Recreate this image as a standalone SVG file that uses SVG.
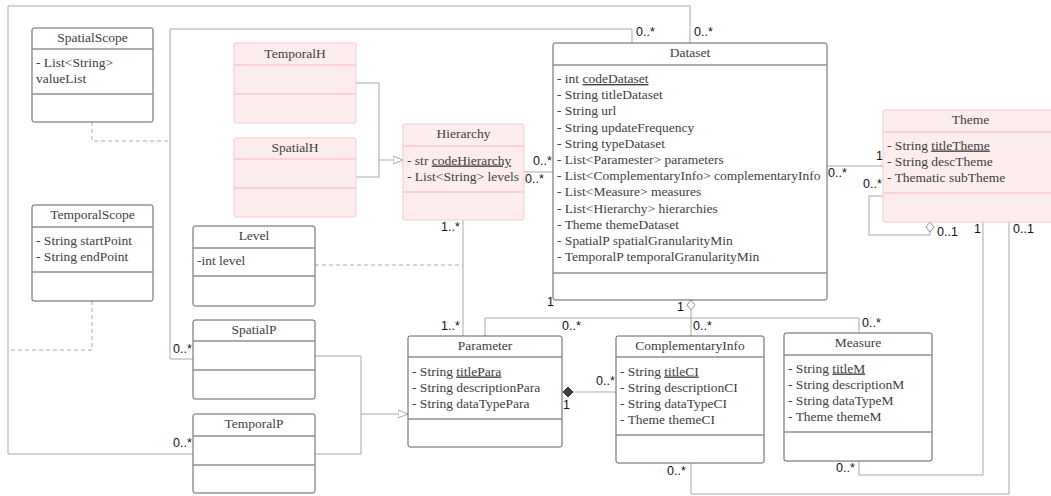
<svg xmlns="http://www.w3.org/2000/svg" width="1051" height="496" viewBox="0 0 1051 496">
<style>
.box{fill:#ffffff;stroke:#5f5f5f;stroke-width:1}
.pink{fill:#fdeded;stroke:#f8c6d3;stroke-width:1}
.sep{stroke:#8e8e8e;stroke-width:1.5}
.psep{stroke:#f8c6d3;stroke-width:1.5}
.t{font-family:"Liberation Serif","Times New Roman",serif;font-size:13.5px;fill:#404040}
.c{text-anchor:middle}
.u{text-decoration:underline}
.lbl{font-family:"Liberation Sans",Arial,sans-serif;font-size:12.5px;fill:#111}
.ln{fill:none;stroke:#a9a9a9;stroke-width:1}
.dash{stroke-dasharray:4 3}
</style>
<defs>
<marker id="tri" viewBox="0 -5 11 10" refX="10" refY="0" markerWidth="11" markerHeight="10" markerUnits="userSpaceOnUse" orient="auto">
<path d="M0,-4 L10,0 L0,4 Z" fill="#fff" stroke="#a9a9a9" stroke-width="1"/>
</marker>
<marker id="odia" viewBox="-1 -5 12 10" refX="10" refY="0" markerWidth="12" markerHeight="10" markerUnits="userSpaceOnUse" orient="auto">
<path d="M0,0 L5,-4 L10,0 L5,4 Z" fill="#fff" stroke="#8e8e8e" stroke-width="1"/>
</marker>
<marker id="fdia" viewBox="-1 -6 12 12" refX="10" refY="0" markerWidth="12" markerHeight="12" markerUnits="userSpaceOnUse" orient="auto">
<path d="M0,0 L5,-5 L10,0 L5,5 Z" fill="#3a3f47" stroke="#3a3f47" stroke-width="1"/>
</marker>
</defs>

<g id="connectors">
<path class="ln" d="M690,43 V6 H8 V454 H193"/>
<path class="ln" d="M632,43 V29 H170 V359 H193"/>
<path class="ln dash" d="M92,122 V141 H170"/>
<path class="ln dash" d="M92,301 V350 H8"/>
<path class="ln" d="M356,83 H379 V177 H356"/>
<path class="ln" d="M379,160 H403" marker-end="url(#tri)"/>
<path class="ln" d="M524,172 H553"/>
<path class="ln dash" d="M315,265 H463"/>
<path class="ln" d="M463,220 V336"/>
<path class="ln" d="M827,166 H883"/>
<path class="ln" d="M883,196 H869 V235 H930 V222" marker-end="url(#odia)"/>
<path class="ln" d="M485,336 V318 H859 V333"/>
<path class="ln" d="M691,336 V300" marker-end="url(#odia)"/>
<path class="ln" d="M616,392 H563" marker-end="url(#fdia)"/>
<path class="ln" d="M315,356 H361 V454 H315"/>
<path class="ln" d="M361,414 H408" marker-end="url(#tri)"/>
<path class="ln" d="M983,222 V475 H859 V461"/>
<path class="ln" d="M1009,222 V494 H691 V463"/>
<text class="lbl" x="636" y="36">0..*</text>
<text class="lbl" x="694" y="36">0..*</text>
<text class="lbl" x="533" y="165">0..*</text>
<text class="lbl" x="525" y="183">0..*</text>
<text class="lbl" x="441" y="231">1..*</text>
<text class="lbl" x="441" y="330">1..*</text>
<text class="lbl" x="562" y="330">0..*</text>
<text class="lbl" x="693" y="330">0..*</text>
<text class="lbl" x="862" y="327">0..*</text>
<text class="lbl" x="547" y="306">1</text>
<text class="lbl" x="677" y="311">1</text>
<text class="lbl" x="876" y="160">1</text>
<text class="lbl" x="828" y="177">0..*</text>
<text class="lbl" x="863" y="188">0..*</text>
<text class="lbl" x="937" y="236">0..1</text>
<text class="lbl" x="974" y="233">1</text>
<text class="lbl" x="1013" y="233">0..1</text>
<text class="lbl" x="596" y="385">0..*</text>
<text class="lbl" x="563" y="409">1</text>
<text class="lbl" x="667" y="475">0..*</text>
<text class="lbl" x="836" y="472">0..*</text>
<text class="lbl" x="173" y="353">0..*</text>
<text class="lbl" x="173" y="447">0..*</text>
</g>

<g id="SpatialScope">
<rect class="box" x="32" y="28" width="121" height="94" rx="2"/>
<line class="sep" x1="32" y1="49" x2="153" y2="49"/>
<line class="sep" x1="32" y1="94" x2="153" y2="94"/>
<text class="t c" x="92.5" y="41.5">SpatialScope</text>
<text class="t" x="36" y="66.5">- List&lt;String&gt;</text>
<text class="t" x="36" y="82.5">valueList</text>
</g>

<g id="TemporalScope">
<rect class="box" x="32" y="205" width="121" height="96" rx="2"/>
<line class="sep" x1="32" y1="227" x2="153" y2="227"/>
<line class="sep" x1="32" y1="272" x2="153" y2="272"/>
<text class="t c" x="92.5" y="218.5">TemporalScope</text>
<text class="t" x="36" y="244.5">- String startPoint</text>
<text class="t" x="36" y="260.5">- String endPoint</text>
</g>

<g id="TemporalH">
<rect class="pink" x="234" y="43" width="122" height="80" rx="2"/>
<line class="psep" x1="234" y1="65" x2="356" y2="65"/>
<line class="psep" x1="234" y1="94" x2="356" y2="94"/>
<text class="t c" x="295" y="57.5">TemporalH</text>
</g>

<g id="SpatialH">
<rect class="pink" x="234" y="138" width="122" height="79" rx="2"/>
<line class="psep" x1="234" y1="159" x2="356" y2="159"/>
<line class="psep" x1="234" y1="188" x2="356" y2="188"/>
<text class="t c" x="295" y="152">SpatialH</text>
</g>

<g id="Hierarchy">
<rect class="pink" x="403" y="124" width="121" height="96" rx="2"/>
<line class="psep" x1="403" y1="146" x2="524" y2="146"/>
<line class="psep" x1="403" y1="192" x2="524" y2="192"/>
<text class="t c" x="463.5" y="137.5">Hierarchy</text>
<text class="t" x="407" y="164.5">- str <tspan class="u">codeHierarchy</tspan></text>
<text class="t" x="407" y="180.5">- List&lt;String&gt; levels</text>
</g>

<g id="Level">
<rect class="box" x="193" y="226" width="122" height="80" rx="2"/>
<line class="sep" x1="193" y1="248" x2="315" y2="248"/>
<line class="sep" x1="193" y1="276" x2="315" y2="276"/>
<text class="t c" x="254" y="239.5">Level</text>
<text class="t" x="197" y="264.5">-int level</text>
</g>

<g id="SpatialP">
<rect class="box" x="193" y="320" width="122" height="79" rx="2"/>
<line class="sep" x1="193" y1="341" x2="315" y2="341"/>
<line class="sep" x1="193" y1="370" x2="315" y2="370"/>
<text class="t c" x="254" y="333.5">SpatialP</text>
</g>

<g id="TemporalP">
<rect class="box" x="193" y="414" width="122" height="79" rx="2"/>
<line class="sep" x1="193" y1="436" x2="315" y2="436"/>
<line class="sep" x1="193" y1="465" x2="315" y2="465"/>
<text class="t c" x="254" y="427.5">TemporalP</text>
</g>

<g id="Dataset">
<rect class="box" x="553" y="43" width="274" height="257" rx="2"/>
<line class="sep" x1="553" y1="65" x2="827" y2="65"/>
<line class="sep" x1="553" y1="273" x2="827" y2="273"/>
<text class="t c" x="690" y="57">Dataset</text>
<text class="t" x="557" y="83">- int <tspan class="u">codeDataset</tspan></text>
<text class="t" x="557" y="99.2">- String titleDataset</text>
<text class="t" x="557" y="115.4">- String url</text>
<text class="t" x="557" y="131.6">- String updateFrequency</text>
<text class="t" x="557" y="147.8">- String typeDataset</text>
<text class="t" x="557" y="164">- List&lt;Paramester&gt; parameters</text>
<text class="t" x="557" y="180.2">- List&lt;ComplementaryInfo&gt; complementaryInfo</text>
<text class="t" x="557" y="196.4">- List&lt;Measure&gt; measures</text>
<text class="t" x="557" y="212.6">- List&lt;Hierarchy&gt; hierarchies</text>
<text class="t" x="557" y="228.8">- Theme themeDataset</text>
<text class="t" x="557" y="245">- SpatialP spatialGranularityMin</text>
<text class="t" x="557" y="261.2">- TemporalP temporalGranularityMin</text>
</g>

<g id="Theme">
<rect class="pink" x="883" y="110" width="175" height="112" rx="2"/>
<line class="psep" x1="883" y1="132" x2="1058" y2="132"/>
<line class="psep" x1="883" y1="193" x2="1058" y2="193"/>
<text class="t c" x="970.5" y="124">Theme</text>
<text class="t" x="887" y="149.5">- String <tspan class="u">titleTheme</tspan></text>
<text class="t" x="887" y="165.5">- String descTheme</text>
<text class="t" x="887" y="181.5">- Thematic subTheme</text>
</g>

<g id="Parameter">
<rect class="box" x="408" y="336" width="154" height="111" rx="2"/>
<line class="sep" x1="408" y1="357" x2="562" y2="357"/>
<line class="sep" x1="408" y1="419" x2="562" y2="419"/>
<text class="t c" x="485" y="349.5">Parameter</text>
<text class="t" x="412" y="375.5">- String <tspan class="u">titlePara</tspan></text>
<text class="t" x="412" y="391.5">- String descriptionPara</text>
<text class="t" x="412" y="407.5">- String dataTypePara</text>
</g>

<g id="ComplementaryInfo">
<rect class="box" x="616" y="336" width="148" height="127" rx="2"/>
<line class="sep" x1="616" y1="357" x2="764" y2="357"/>
<line class="sep" x1="616" y1="435" x2="764" y2="435"/>
<text class="t c" x="690" y="349.5">ComplementaryInfo</text>
<text class="t" x="620" y="375.5">- String <tspan class="u">titleCI</tspan></text>
<text class="t" x="620" y="391.5">- String descriptionCI</text>
<text class="t" x="620" y="407.5">- String dataTypeCI</text>
<text class="t" x="620" y="423.5">- Theme themeCI</text>
</g>

<g id="Measure">
<rect class="box" x="784" y="333" width="148" height="128" rx="2"/>
<line class="sep" x1="784" y1="355" x2="932" y2="355"/>
<line class="sep" x1="784" y1="432" x2="932" y2="432"/>
<text class="t c" x="858" y="347">Measure</text>
<text class="t" x="788" y="372.5">- String <tspan class="u">titleM</tspan></text>
<text class="t" x="788" y="388.5">- String descriptionM</text>
<text class="t" x="788" y="404.5">- String dataTypeM</text>
<text class="t" x="788" y="420.5">- Theme themeM</text>
</g>
</svg>
